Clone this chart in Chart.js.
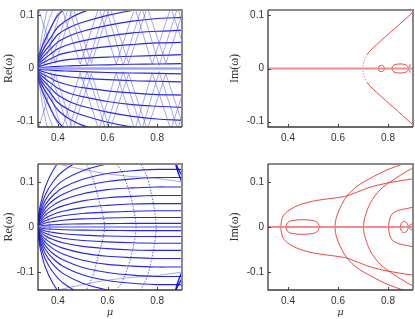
<!DOCTYPE html>
<html><head><meta charset="utf-8">
<script src="https://cdn.jsdelivr.net/npm/chart.js@4.4.1/dist/chart.umd.min.js"></script>
<style>
html,body{margin:0;padding:0;background:#fff;width:415px;height:319px;overflow:hidden;position:relative}
canvas{position:absolute}
</style></head><body>
<canvas id="c1" width="186" height="150" style="left:0;top:0"></canvas>
<canvas id="c2" width="189" height="150" style="left:226px;top:0"></canvas>
<canvas id="c3" width="186" height="169" style="left:0;top:150px"></canvas>
<canvas id="c4" width="189" height="169" style="left:226px;top:150px"></canvas>
<script>
// ---------- axes / ticks ----------
const muRange = [0.32, 0.9];
const muTicks = [0.4, 0.6, 0.8];
const topRange = [-0.11, 0.11];
const botRange = [-0.14, 0.14];
const omegaTicks = [-0.1, 0, 0.1];
const zeroMu = [0.32, 0.9];
const zeroVal = [0, 0];

// ---------- top-left : Re(omega) ----------
const tlMu = [0.32, 0.34, 0.37, 0.40, 0.45, 0.50, 0.60, 0.70, 0.80, 0.90];
const tlU1 = [0.001,0.002,0.003,0.004,0.005,0.006,0.007,0.008,0.0085,0.009];
const tlU2 = [0.003,0.006,0.010,0.0135,0.017,0.019,0.0215,0.023,0.0245,0.026];
const tlU3 = [0.005,0.011,0.018,0.025,0.031,0.035,0.041,0.045,0.048,0.049];
const tlU4 = [0.008,0.016,0.027,0.037,0.046,0.052,0.061,0.067,0.070,0.072];
const tlU5 = [0.010,0.022,0.036,0.050,0.062,0.070,0.081,0.089,0.094,0.096];
const tlU6 = [0.013,0.028,0.046,0.064,0.078,0.087,0.100,0.109,0.115,0.120];
const tlU7 = [0.016,0.035,0.057,0.078,0.095,0.106,0.120,0.130,0.135,0.140];
const tlU8 = [0.020,0.045,0.075,0.100,0.120,0.134,0.150,0.160,0.165,0.170];
const tlL1 = [-0.001,-0.002,-0.003,-0.004,-0.005,-0.006,-0.0075,-0.0085,-0.009,-0.010];
const tlL2 = [-0.003,-0.006,-0.010,-0.013,-0.016,-0.018,-0.021,-0.023,-0.024,-0.025];
const tlL3 = [-0.005,-0.011,-0.018,-0.025,-0.032,-0.036,-0.042,-0.046,-0.049,-0.050];
const tlL4 = [-0.008,-0.016,-0.027,-0.037,-0.047,-0.053,-0.062,-0.068,-0.071,-0.073];
const tlL5 = [-0.010,-0.022,-0.036,-0.050,-0.063,-0.071,-0.082,-0.090,-0.095,-0.097];
const tlL6 = [-0.013,-0.028,-0.046,-0.064,-0.079,-0.088,-0.101,-0.110,-0.116,-0.121];
const tlL7 = [-0.016,-0.035,-0.057,-0.078,-0.096,-0.107,-0.121,-0.131,-0.136,-0.141];
const tlL8 = [-0.020,-0.045,-0.075,-0.100,-0.121,-0.135,-0.151,-0.161,-0.166,-0.171];
// light zig-zag branches
const zigAMu = [0.345, 0.415, 0.49, 0.565, 0.635, 0.71, 0.78, 0.855, 0.93];
const zigAUp = [0.008, 0.115, 0.008, 0.115, 0.008, 0.115, 0.008, 0.115, 0.008];
const zigALo = [-0.008, -0.115, -0.008, -0.115, -0.008, -0.115, -0.008, -0.115, -0.008];
const zigBMu = [0.37, 0.443, 0.518, 0.593, 0.663, 0.738, 0.808, 0.883, 0.95];
const zigBUp = [0.006, 0.115, 0.006, 0.115, 0.006, 0.115, 0.006, 0.115, 0.006];
const zigBLo = [-0.006, -0.115, -0.006, -0.115, -0.006, -0.115, -0.006, -0.115, -0.006];
const zigCMu = [0.32, 0.39, 0.46, 0.535, 0.61, 0.685, 0.76, 0.835, 0.91];
const zigCUp = [0.115, 0.010, 0.115, 0.010, 0.115, 0.010, 0.115, 0.010, 0.115];
const zigCLo = [-0.115, -0.010, -0.115, -0.010, -0.115, -0.010, -0.115, -0.010, -0.115];
const fanMu = [0.32, 0.33, 0.345, 0.36, 0.38, 0.40];
const fanU1 = [0.004, 0.030, 0.060, 0.085, 0.110, 0.130];
const fanU2 = [0.002, 0.020, 0.042, 0.062, 0.085, 0.105];
const fanU3 = [0.006, 0.045, 0.085, 0.115, 0.140, 0.160];
const fanL1 = [-0.004, -0.030, -0.060, -0.085, -0.110, -0.130];
const fanL2 = [-0.002, -0.020, -0.042, -0.062, -0.085, -0.105];
const fanL3 = [-0.006, -0.045, -0.085, -0.115, -0.140, -0.160];

// ---------- top-right : Im(omega) ----------
const trVMu = [0.700, 0.702, 0.706, 0.712, 0.718];
const trVUp = [0.004, 0.010, 0.016, 0.022, 0.027];
const trVLo = [-0.004, -0.010, -0.016, -0.022, -0.027];
const trPMu = [0.718, 0.730, 0.755, 0.790, 0.822, 0.860, 0.900];
const trPUp = [0.027, 0.034, 0.045, 0.060, 0.073, 0.089, 0.106];
const trPLo = [-0.027, -0.034, -0.045, -0.060, -0.073, -0.089, -0.106];
const trLoop1Mu = [0.762, 0.765, 0.7735, 0.782, 0.785, 0.782, 0.7735, 0.765, 0.762];
const trLoop1Im = [0, 0.0045, 0.006, 0.0045, 0, -0.0045, -0.006, -0.0045, 0];
const trLoop2Mu = [0.815, 0.822, 0.835, 0.848, 0.862, 0.875, 0.882, 0.875, 0.862, 0.848, 0.835, 0.822, 0.815];
const trLoop2Im = [0, 0.006, 0.008, 0.0085, 0.008, 0.006, 0, -0.006, -0.008, -0.0085, -0.008, -0.006, 0];
const trTickMu = [0.886, 0.889];
const trTickUp = [0.003, 0.008];
const trTickLo = [-0.003, -0.008];

// ---------- bottom-left : Re(omega) ----------
const blMu = [0.32, 0.33, 0.35, 0.38, 0.42, 0.50, 0.60, 0.70, 0.80, 0.85, 0.90];
const blU1 = [0.000,0.002,0.004,0.005,0.006,0.007,0.0075,0.008,0.008,0.008,0.008];
const blU2 = [0.002,0.005,0.009,0.012,0.015,0.018,0.020,0.021,0.021,0.021,0.021];
const blU3 = [0.003,0.008,0.014,0.020,0.025,0.030,0.033,0.035,0.036,0.036,0.036];
const blU4 = [0.004,0.011,0.020,0.028,0.035,0.043,0.048,0.051,0.052,0.052,0.052];
const blU5 = [0.006,0.015,0.027,0.038,0.047,0.058,0.065,0.068,0.070,0.070,0.070];
const blU6 = [0.007,0.019,0.034,0.048,0.060,0.074,0.083,0.087,0.089,0.089,0.089];
const blU7 = [0.009,0.023,0.042,0.059,0.073,0.090,0.101,0.107,0.110,0.110,0.110];
const blU8 = [0.011,0.028,0.050,0.070,0.087,0.106,0.119,0.125,0.128,0.128,0.128];
const blU9 = [0.013,0.033,0.060,0.083,0.103,0.125,0.140,0.148,0.152,0.153,0.154];
const blU10 = [0.016,0.040,0.072,0.100,0.124,0.150,0.168,0.178,0.183,0.185,0.186];
const blU11 = [0.020,0.050,0.090,0.125,0.155,0.185,0.205,0.215,0.220,0.222,0.223];
const blL1 = [0.000,-0.002,-0.004,-0.005,-0.006,-0.007,-0.0075,-0.008,-0.008,-0.008,-0.008];
const blL2 = [-0.002,-0.005,-0.009,-0.012,-0.015,-0.018,-0.020,-0.021,-0.021,-0.021,-0.021];
const blL3 = [-0.003,-0.008,-0.014,-0.020,-0.025,-0.030,-0.033,-0.035,-0.036,-0.036,-0.036];
const blL4 = [-0.004,-0.011,-0.020,-0.028,-0.035,-0.043,-0.048,-0.051,-0.052,-0.052,-0.052];
const blL5 = [-0.006,-0.015,-0.027,-0.038,-0.047,-0.058,-0.065,-0.068,-0.070,-0.070,-0.070];
const blL6 = [-0.007,-0.019,-0.034,-0.048,-0.060,-0.074,-0.083,-0.087,-0.089,-0.089,-0.089];
const blL7 = [-0.009,-0.023,-0.042,-0.059,-0.073,-0.090,-0.101,-0.107,-0.110,-0.110,-0.110];
const blL8 = [-0.011,-0.028,-0.050,-0.070,-0.087,-0.106,-0.119,-0.125,-0.128,-0.128,-0.128];
const blL9 = [-0.013,-0.033,-0.060,-0.083,-0.103,-0.125,-0.140,-0.148,-0.152,-0.153,-0.154];
const blL10 = [-0.016,-0.040,-0.072,-0.100,-0.124,-0.150,-0.168,-0.178,-0.183,-0.185,-0.186];
const blL11 = [-0.020,-0.050,-0.090,-0.125,-0.155,-0.185,-0.205,-0.215,-0.220,-0.222,-0.223];
// curves crossing the fan
const blXMu = [0.32, 0.40, 0.50, 0.60, 0.70, 0.80, 0.90];
const blXUp = [0.150, 0.140, 0.128, 0.118, 0.112, 0.108, 0.100];
const blXLo = [-0.150, -0.140, -0.128, -0.118, -0.112, -0.108, -0.100];
// arcs closing on the axis
const arc1Mu = [0.51, 0.54, 0.565, 0.58, 0.588, 0.58, 0.565, 0.54, 0.51];
const arc1Re = [0.145, 0.11, 0.06, 0.03, 0, -0.03, -0.06, -0.11, -0.145];
const arc2Mu = [0.63, 0.66, 0.69, 0.705, 0.715, 0.705, 0.69, 0.66, 0.63];
const arc2Re = [0.145, 0.12, 0.075, 0.04, 0, -0.04, -0.075, -0.12, -0.145];
const arc3Mu = [0.73, 0.76, 0.78, 0.79, 0.796, 0.79, 0.78, 0.76, 0.73];
const arc3Re = [0.145, 0.11, 0.065, 0.035, 0, -0.035, -0.065, -0.11, -0.145];
const arc0Mu = [0.33, 0.35, 0.362, 0.368, 0.362, 0.35, 0.33];
const arc0Re = [0.05, 0.03, 0.015, 0, -0.015, -0.03, -0.05];
const cornerMu = [0.872, 0.882, 0.892, 0.9];
const cornerU1 = [0.145, 0.125, 0.110, 0.100];
const cornerU2 = [0.145, 0.132, 0.122, 0.115];
const cornerL1 = [-0.145, -0.125, -0.110, -0.100];
const cornerL2 = [-0.145, -0.132, -0.122, -0.115];

// ---------- bottom-right : Im(omega) ----------
const brAMu = [0.371, 0.374, 0.38, 0.39, 0.407, 0.447, 0.514, 0.581, 0.641, 0.715, 0.80, 0.90];
const brAUp = [0, 0.013, 0.024, 0.031, 0.0385, 0.0496, 0.059, 0.064, 0.070, 0.086, 0.098, 0.107];
const brALo = [0, -0.013, -0.024, -0.031, -0.0385, -0.0496, -0.059, -0.064, -0.070, -0.086, -0.098, -0.107];
const brBMu = [0.588, 0.590, 0.595, 0.608, 0.635, 0.675, 0.742, 0.80, 0.86, 0.88];
const brBUp = [0, 0.012, 0.024, 0.042, 0.068, 0.090, 0.112, 0.128, 0.140, 0.145];
const brBLo = [0, -0.012, -0.024, -0.042, -0.068, -0.090, -0.112, -0.128, -0.140, -0.145];
const brCMu = [0.702, 0.704, 0.709, 0.729, 0.769, 0.822, 0.876, 0.90];
const brCUp = [0, 0.012, 0.024, 0.053, 0.083, 0.105, 0.124, 0.131];
const brCLo = [0, -0.012, -0.024, -0.053, -0.083, -0.105, -0.124, -0.131];
const brDMu = [0.802, 0.804, 0.808, 0.815, 0.830, 0.849, 0.875, 0.90];
const brDUp = [0, 0.010, 0.020, 0.028, 0.034, 0.038, 0.041, 0.044];
const brDLo = [0, -0.010, -0.020, -0.028, -0.034, -0.038, -0.041, -0.044];
const brEMu = [0.391,0.397,0.414,0.458,0.502,0.519,0.525,0.519,0.502,0.458,0.414,0.397,0.391];
const brEIm = [0,0.009,0.014,0.0163,0.014,0.009,0,-0.009,-0.014,-0.0163,-0.014,-0.009,0];
const brFMu = [0.849,0.852,0.858,0.865,0.872,0.878,0.881,0.878,0.872,0.865,0.858,0.852,0.849];
const brFIm = [0,0.007,0.011,0.012,0.011,0.007,0,-0.007,-0.011,-0.012,-0.011,-0.007,0];
const brTipMu = [0.885, 0.9];
const brTipUp = [0.003, 0.009];
const brTipLo = [-0.003, -0.009];

// ---------- helpers ----------
const DARK = 'rgba(0,0,225,0.85)';
const LIGHT = 'rgba(80,80,240,0.5)';
const ARC = 'rgba(40,40,225,0.75)';
const ZB = 'rgba(150,150,255,0.9)';
const RED = 'rgba(230,40,40,0.85)';
const ZR = 'rgba(240,130,130,0.9)';

function ds(xs, ys, color, width, extra) {
  return Object.assign({
    data: xs.map((x, i) => ({x: x, y: ys[i]})),
    borderColor: color, borderWidth: width, pointRadius: 0,
    showLine: true, fill: false, tension: 0.35
  }, extra || {});
}

const framePlugin = {
  id: 'frame',
  afterDatasetsDraw(chart) {
    const {ctx, chartArea: a, scales} = chart;
    ctx.save();
    ctx.strokeStyle = '#444'; ctx.lineWidth = 1;
    scales.x.ticks.forEach(t => {
      const px = Math.round(scales.x.getPixelForValue(t.value)) + 0.5;
      ctx.beginPath(); ctx.moveTo(px, a.bottom); ctx.lineTo(px, a.bottom - 3); ctx.stroke();
    });
    scales.y.ticks.forEach(t => {
      const py = Math.round(scales.y.getPixelForValue(t.value)) + 0.5;
      ctx.beginPath(); ctx.moveTo(a.left, py); ctx.lineTo(a.left + 3, py); ctx.stroke();
    });
    ctx.strokeStyle = '#8a8a8a'; ctx.lineWidth = 2;
    ctx.beginPath(); ctx.moveTo(a.left, a.top); ctx.lineTo(a.right, a.top); ctx.lineTo(a.right, a.bottom); ctx.stroke();
    ctx.strokeStyle = '#3a3a3a'; ctx.lineWidth = 1.3;
    ctx.beginPath(); ctx.moveTo(a.left, a.top); ctx.lineTo(a.left, a.bottom); ctx.lineTo(a.right, a.bottom); ctx.stroke();
    ctx.restore();
  }
};

function makeChart(id, datasets, yRange, yTitle, bottomRow, yAxisW) {
  new Chart(document.getElementById(id), {
    type: 'scatter',
    data: {datasets: datasets},
    plugins: [framePlugin],
    options: {
      responsive: false, animation: false, events: [],
      devicePixelRatio: 1,
      layout: {padding: {top: bottomRow ? 14 : 2, right: id === 'c1' || id === 'c3' ? 4 : 2, bottom: bottomRow ? 1 : 3, left: 0}},
      elements: {line: {capBezierPoints: false}},
      plugins: {legend: {display: false}, tooltip: {enabled: false}},
      scales: {
        x: {
          type: 'linear', min: muRange[0], max: muRange[1],
          afterBuildTicks: s => { s.ticks = muTicks.map(v => ({value: v})); },
          afterFit: s => { s.height = bottomRow ? 28 : 20; },
          grid: {display: false, drawTicks: false}, border: {display: false},
          ticks: {padding: 5, color: '#333', font: {family: 'Liberation Sans', size: 10}, callback: v => v.toFixed(1)},
          title: {display: bottomRow, text: 'μ', color: '#333', padding: {top: 0, bottom: 0},
                  font: {family: 'DejaVu Serif', size: 10, style: 'italic'}}
        },
        y: {
          type: 'linear', min: yRange[0], max: yRange[1],
          afterBuildTicks: s => { s.ticks = omegaTicks.map(v => ({value: v})); },
          afterFit: s => { s.width = yAxisW; },
          grid: {display: false, drawTicks: false}, border: {display: false},
          ticks: {padding: 4, color: '#333', font: {family: 'Liberation Sans', size: 10}, callback: v => v === 0 ? '0' : v.toFixed(1)},
          title: {display: true, text: yTitle, color: '#333', padding: {top: 2, bottom: 0},
                  font: {family: 'Liberation Serif', size: 12}}
        }
      }
    }
  });
}

// top-left
makeChart('c1', [
  ds(zigAMu, zigAUp, LIGHT, 1, {tension: 0}), ds(zigBMu, zigBUp, LIGHT, 1, {tension: 0}),
  ds(zigAMu, zigALo, LIGHT, 1, {tension: 0}), ds(zigBMu, zigBLo, LIGHT, 1, {tension: 0}),
  ds(zigCMu, zigCUp, LIGHT, 1, {tension: 0}), ds(zigCMu, zigCLo, LIGHT, 1, {tension: 0}),
  ds(fanMu, fanU1, LIGHT, 1), ds(fanMu, fanU2, LIGHT, 1), ds(fanMu, fanU3, LIGHT, 1),
  ds(fanMu, fanL1, LIGHT, 1), ds(fanMu, fanL2, LIGHT, 1), ds(fanMu, fanL3, LIGHT, 1),
  ds(zeroMu, zeroVal, ZB, 2.5, {tension: 0}),
  ds(tlMu, tlU1, DARK, 1.2), ds(tlMu, tlU2, DARK, 1.2), ds(tlMu, tlU3, DARK, 1.2), ds(tlMu, tlU4, DARK, 1.2),
  ds(tlMu, tlU5, DARK, 1.2), ds(tlMu, tlU6, DARK, 1.2), ds(tlMu, tlU7, DARK, 1.2), ds(tlMu, tlU8, DARK, 1.2),
  ds(tlMu, tlL1, DARK, 1.2), ds(tlMu, tlL2, DARK, 1.2), ds(tlMu, tlL3, DARK, 1.2), ds(tlMu, tlL4, DARK, 1.2),
  ds(tlMu, tlL5, DARK, 1.2), ds(tlMu, tlL6, DARK, 1.2), ds(tlMu, tlL7, DARK, 1.2), ds(tlMu, tlL8, DARK, 1.2)
], topRange, 'Re(ω)', false, 38);

// top-right
makeChart('c2', [
  ds(zeroMu, zeroVal, ZR, 2, {tension: 0}),
  ds(trVMu, trVUp, RED, 1, {borderDash: [1, 2]}), ds(trVMu, trVLo, RED, 1, {borderDash: [1, 2]}),
  ds(trPMu, trPUp, RED, 1), ds(trPMu, trPLo, RED, 1),
  ds(trLoop1Mu, trLoop1Im, RED, 1), ds(trLoop2Mu, trLoop2Im, RED, 1),
  ds(trTickMu, trTickUp, RED, 1, {tension: 0}), ds(trTickMu, trTickLo, RED, 1, {tension: 0})
], topRange, 'Im(ω)', false, 42);

// bottom-left
makeChart('c3', [
  ds(arc0Mu, arc0Re, LIGHT, 1), ds(arc1Mu, arc1Re, ARC, 1, {borderDash: [1.5, 1.5]}),
  ds(arc2Mu, arc2Re, ARC, 1, {borderDash: [1.5, 1.5]}), ds(arc3Mu, arc3Re, ARC, 1, {borderDash: [1.5, 1.5]}),
  ds(blXMu, blXUp, LIGHT, 1), ds(blXMu, blXLo, LIGHT, 1),
  ds(zeroMu, zeroVal, ZB, 2, {tension: 0}),
  ds(blMu, blU1, DARK, 1.1), ds(blMu, blU2, DARK, 1.1), ds(blMu, blU3, DARK, 1.1), ds(blMu, blU4, DARK, 1.1),
  ds(blMu, blU5, DARK, 1.1), ds(blMu, blU6, DARK, 1.1), ds(blMu, blU7, DARK, 1.1), ds(blMu, blU8, DARK, 1.1),
  ds(blMu, blU9, DARK, 1.1), ds(blMu, blU10, DARK, 1.1), ds(blMu, blU11, DARK, 1.1),
  ds(blMu, blL1, DARK, 1.1), ds(blMu, blL2, DARK, 1.1), ds(blMu, blL3, DARK, 1.1), ds(blMu, blL4, DARK, 1.1),
  ds(blMu, blL5, DARK, 1.1), ds(blMu, blL6, DARK, 1.1), ds(blMu, blL7, DARK, 1.1), ds(blMu, blL8, DARK, 1.1),
  ds(blMu, blL9, DARK, 1.1), ds(blMu, blL10, DARK, 1.1), ds(blMu, blL11, DARK, 1.1),
  ds(cornerMu, cornerU1, DARK, 1.5), ds(cornerMu, cornerU2, DARK, 1.5),
  ds(cornerMu, cornerL1, DARK, 1.5), ds(cornerMu, cornerL2, DARK, 1.5)
], botRange, 'Re(ω)', true, 38);

// bottom-right
makeChart('c4', [
  ds(zeroMu, zeroVal, ZR, 2, {tension: 0}),
  ds(brAMu, brAUp, RED, 1), ds(brAMu, brALo, RED, 1),
  ds(brBMu, brBUp, RED, 1), ds(brBMu, brBLo, RED, 1),
  ds(brCMu, brCUp, RED, 1), ds(brCMu, brCLo, RED, 1),
  ds(brDMu, brDUp, RED, 1), ds(brDMu, brDLo, RED, 1),
  ds(brEMu, brEIm, RED, 1), ds(brFMu, brFIm, RED, 1),
  ds(brTipMu, brTipUp, RED, 1, {tension: 0}), ds(brTipMu, brTipLo, RED, 1, {tension: 0})
], botRange, 'Im(ω)', true, 42);
</script>
</body></html>
